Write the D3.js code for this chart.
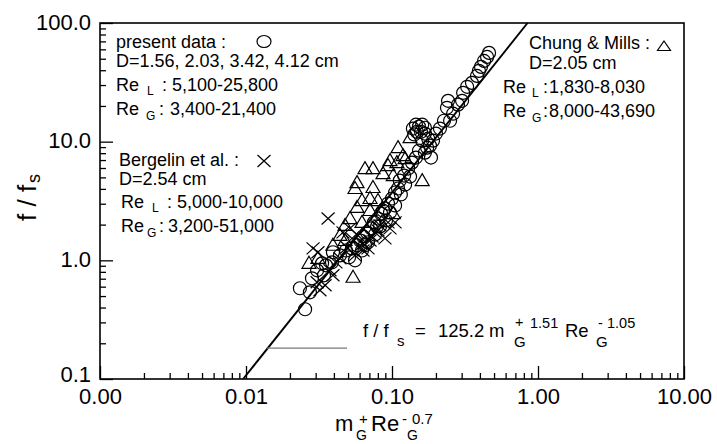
<!DOCTYPE html>
<html>
<head>
<meta charset="utf-8">
<script src="https://cdn.jsdelivr.net/npm/d3@7"></script>
<style>
  body { margin: 0; background: #fff; }
  text { font-family: "Liberation Sans", Arial, sans-serif; fill: #000; }
</style>
</head>
<body>
<div id="chart-area"></div>
<script>
// ---- data ----
var xMajor = [0.001, 0.01, 0.1, 1, 10];
var xMajorLabels = ["0.00", "0.01", "0.10", "1.00", "10.00"];
var yMajor = [0.1, 1, 10, 100];
var yMajorLabels = ["0.1", "1.0", "10.0", "100.0"];

// present data (circles)
var presentData = [
  [0.462, 56.0], [0.448, 51.8], [0.427, 47.9], [0.407, 42.7], [0.394, 39.5],
  [0.382, 35.8], [0.353, 31.3], [0.327, 29.0], [0.307, 25.8], [0.302, 22.1],
  [0.283, 20.5], [0.242, 22.1], [0.238, 19.3], [0.262, 17.2], [0.250, 15.0],
  [0.227, 15.0], [0.213, 12.9], [0.200, 11.7], [0.191, 10.2], [0.182, 9.26],
  [0.139, 12.9], [0.146, 13.9], [0.153, 13.4], [0.161, 13.9], [0.168, 13.1],
  [0.148, 12.1], [0.158, 12.1], [0.168, 11.7], [0.142, 11.5], [0.177, 10.6],
  [0.161, 10.2], [0.174, 8.90], [0.185, 7.34], [0.153, 8.40], [0.168, 8.08],
  [0.146, 7.34], [0.137, 6.66], [0.129, 5.93], [0.121, 5.18], [0.133, 5.08],
  [0.113, 4.70], [0.123, 4.35], [0.110, 4.03], [0.105, 3.73], [0.115, 3.59],
  [0.100, 3.32], [0.0939, 3.01], [0.105, 2.90], [0.0895, 2.74], [0.0969, 2.53],
  [0.0841, 2.48], [0.0910, 2.17], [0.0802, 2.25], [0.0753, 2.09], [0.0828, 1.93],
  [0.0718, 1.86], [0.0674, 1.72], [0.0765, 1.65], [0.0633, 1.59], [0.0604, 1.47],
  [0.0685, 1.42], [0.0576, 1.34], [0.0532, 1.26], [0.0623, 1.21], [0.0484, 1.21],
  [0.0508, 1.06], [0.0558, 1.00], [0.0440, 1.10], [0.0394, 1.17], [0.0388, 0.962],
  [0.0353, 0.908], [0.0332, 0.944], [0.0307, 0.824], [0.0342, 0.748], [0.0283, 0.706],
  [0.0274, 0.538], [0.0234, 0.582], [0.0254, 0.387], [0.0868, 2.63], [0.0790, 1.93],
  [0.0653, 1.34]
];

// Bergelin et al. (crosses)
var bergelinData = [
  [0.0365, 2.25], [0.0288, 1.26], [0.0311, 1.17], [0.0376, 0.824], [0.0394, 0.748],
  [0.0307, 0.653], [0.0321, 0.560], [0.0633, 1.39], [0.0633, 1.21], [0.0492, 1.29],
  [0.0462, 1.72], [0.0516, 1.86], [0.0707, 1.47], [0.0765, 1.72], [0.0895, 1.53],
  [0.0828, 1.97], [0.0969, 1.86], [0.0585, 1.62], [0.0413, 0.962], [0.0348, 0.617],
  [0.0558, 1.10], [0.0685, 1.26], [0.105, 2.09], [0.0440, 1.04], [0.0730, 1.59],
  [0.0802, 1.79], [0.0939, 2.09], [0.0604, 1.31], [0.0532, 1.53]
];

// Chung & Mills (triangles)
var chungData = [
  [0.0270, 0.944], [0.0311, 1.04], [0.0477, 1.97], [0.0516, 2.25], [0.0576, 2.79],
  [0.0623, 3.19], [0.0707, 3.32], [0.0558, 4.03], [0.0576, 4.52], [0.0741, 4.11],
  [0.0653, 5.93], [0.0741, 5.93], [0.0868, 5.38], [0.0969, 6.92], [0.0939, 6.29],
  [0.110, 8.90], [0.119, 7.63], [0.133, 10.8], [0.102, 5.18], [0.108, 6.66],
  [0.123, 7.20], [0.161, 4.70], [0.102, 2.48], [0.0802, 3.19], [0.0707, 2.63],
  [0.0541, 0.720], [0.0477, 1.47], [0.0623, 2.09], [0.0440, 1.62], [0.0394, 1.34]
];

// correlation line drawn on the plot
var fitCoef = 129;
var fitExp = 1.54;
// grey pointer line under the equation
var pointerY = 0.182;
var pointerX = [0.0139, 0.0492];

var margin = { left: 100, right: 33, top: 23, bottom: 65 };
var width = 717 - margin.left - margin.right;
var height = 444 - margin.top - margin.bottom;

var svg = d3.select("#chart-area")
  .append("svg")
  .attr("width", 717)
  .attr("height", 444);

var g = svg.append("g")
  .attr("transform", "translate(" + margin.left + "," + margin.top + ")");

var x = d3.scaleLog().domain([0.001, 10]).range([0, width]);
var y = d3.scaleLog().domain([0.1, 100]).range([height, 0]);

// minor ticks (no labels)
var xMinor = x.ticks().filter(function (d) { return xMajor.indexOf(+d.toPrecision(3)) < 0; });
var yMinor = y.ticks().filter(function (d) { return yMajor.indexOf(+d.toPrecision(3)) < 0; });

function styleAxis(sel) {
  sel.select(".domain").remove();
  sel.selectAll("line").attr("stroke", "#000").attr("stroke-width", 1.3);
}

g.append("g")
  .attr("transform", "translate(0," + height + ")")
  .call(d3.axisBottom(x).tickValues(xMinor).tickSize(-6).tickFormat(""))
  .call(styleAxis);

g.append("g")
  .call(d3.axisLeft(y).tickValues(yMinor).tickSize(-6).tickFormat(""))
  .call(styleAxis);

var xAxis = g.append("g")
  .attr("transform", "translate(0," + height + ")")
  .call(d3.axisBottom(x).tickValues(xMajor).tickSize(-13).tickPadding(9)
    .tickFormat(function (d, i) { return xMajorLabels[i]; }))
  .call(styleAxis);
xAxis.selectAll("text")
  .attr("font-size", "22px")
  .attr("font-family", "Liberation Sans, Arial, sans-serif")
  .attr("fill", "#000");

var yAxis = g.append("g")
  .call(d3.axisLeft(y).tickValues(yMajor).tickSize(-13).tickPadding(9)
    .tickFormat(function (d, i) { return yMajorLabels[i]; }))
  .call(styleAxis);
yAxis.selectAll("text")
  .attr("font-size", "22px")
  .attr("dy", function (d, i) { return i === 0 ? "0.1em" : "0.28em"; })
  .attr("font-family", "Liberation Sans, Arial, sans-serif")
  .attr("fill", "#000");

// frame
g.append("rect")
  .attr("width", width)
  .attr("height", height)
  .attr("fill", "none")
  .attr("stroke", "#000")
  .attr("stroke-width", 1.6);

// fit line
var x0 = Math.pow(0.1 / fitCoef, 1 / fitExp);
var x1 = Math.pow(100 / fitCoef, 1 / fitExp);
g.append("path")
  .datum([x0, x1])
  .attr("fill", "none")
  .attr("stroke", "#000")
  .attr("stroke-width", 1.9)
  .attr("d", d3.line()
    .x(function (d) { return x(d); })
    .y(function (d) { return y(fitCoef * Math.pow(d, fitExp)); }));

// pointer line
g.append("line")
  .attr("x1", x(pointerX[0]))
  .attr("x2", x(pointerX[1]))
  .attr("y1", y(pointerY))
  .attr("y2", y(pointerY))
  .attr("stroke", "#777")
  .attr("stroke-width", 1.2);

// markers
var marks = g.append("g")
  .attr("fill", "none")
  .attr("stroke", "#000")
  .attr("stroke-width", 1.2);

var triPath = "M0,-7L7,5L-7,5Z";
var crossPath = "M-6.5,-6L6.5,6M-6.5,6L6.5,-6";

marks.selectAll(".tri")
  .data(chungData)
  .enter().append("path")
  .attr("class", "tri")
  .attr("d", triPath)
  .attr("transform", function (d) { return "translate(" + x(d[0]) + "," + y(d[1]) + ")"; });

marks.selectAll(".cross")
  .data(bergelinData)
  .enter().append("path")
  .attr("class", "cross")
  .attr("d", crossPath)
  .attr("transform", function (d) { return "translate(" + x(d[0]) + "," + y(d[1]) + ")"; });

marks.selectAll("circle")
  .data(presentData)
  .enter().append("circle")
  .attr("cx", function (d) { return x(d[0]); })
  .attr("cy", function (d) { return y(d[1]); })
  .attr("r", 6.5);

// ---- texts (page coordinates) ----
function put(px, py, str, size) {
  return svg.append("text")
    .attr("x", px)
    .attr("y", py)
    .attr("font-size", size + "px")
    .text(str);
}

// present data legend
put(116, 48, "present data :", 18);
put(116, 67, "D=1.56, 2.03, 3.42, 4.12 cm", 18);
put(116, 91, "Re", 18); put(147, 95, "L", 12); put(162, 91, ":", 18); put(172, 91, "5,100-25,800", 18);
put(116, 115, "Re", 18); put(146, 120, "G", 12); put(159, 115, ":", 18); put(170, 115, "3,400-21,400", 18);
svg.append("ellipse").attr("cx", 264).attr("cy", 41.5).attr("rx", 7).attr("ry", 6)
  .attr("fill", "none").attr("stroke", "#000").attr("stroke-width", 1.2);

// Bergelin legend
put(119, 166, "Bergelin et al. :", 18);
put(119, 185, "D=2.54 cm", 18);
put(121, 208, "Re", 18); put(152, 212, "L", 12); put(167, 208, ":", 18); put(177, 208, "5,000-10,000", 18);
put(121, 232, "Re", 18); put(147, 237, "G", 12); put(159, 232, ":", 18); put(168, 232, "3,200-51,000", 18);
svg.append("path").attr("d", crossPath).attr("transform", "translate(264,161)")
  .attr("fill", "none").attr("stroke", "#000").attr("stroke-width", 1.2);

// Chung & Mills legend
put(529, 49, "Chung & Mills :", 18);
put(529, 69, "D=2.05 cm", 18);
put(503, 93, "Re", 18); put(532, 97, "L", 12); put(543, 93, ":", 18); put(549, 93, "1,830-8,030", 18);
put(503, 117, "Re", 18); put(532, 122, "G", 12); put(543, 117, ":", 18); put(549, 117, "8,000-43,690", 18);
svg.append("path").attr("d", "M0,-5L6.5,4.5L-6.5,4.5Z").attr("transform", "translate(664,46)")
  .attr("fill", "none").attr("stroke", "#000").attr("stroke-width", 1.2);

// equation
put(363, 337, "f / f", 18.5);
put(397, 346, "s", 15);
put(415, 337, "=", 18.5);
put(438, 337, "125.2", 18.5);
put(489, 337, "m", 18.5);
put(515, 327, "+", 14.5);
put(514, 347, "G", 15);
put(530, 328, "1.51", 14.5);
put(565, 337, "Re", 18.5);
put(596, 347, "G", 15);
put(598, 328, "-", 14.5);
put(607, 328, "1.05", 14.5);

// x axis title
put(335, 431, "m", 22);
put(359, 424, "+", 15);
put(356, 440, "G", 14);
put(371, 431, "Re", 22);
put(402, 424, "-", 15);
put(412, 424, "0.7", 15);
put(407, 440, "G", 14);

// y axis title
var yt = svg.append("g").attr("transform", "translate(36,221) rotate(-90)");
yt.append("text").attr("x", 0).attr("y", 0).attr("font-size", "26px").text("f / f");
yt.append("text").attr("x", 38).attr("y", 4).attr("font-size", "18px").text("s");
</script>
</body>
</html>
